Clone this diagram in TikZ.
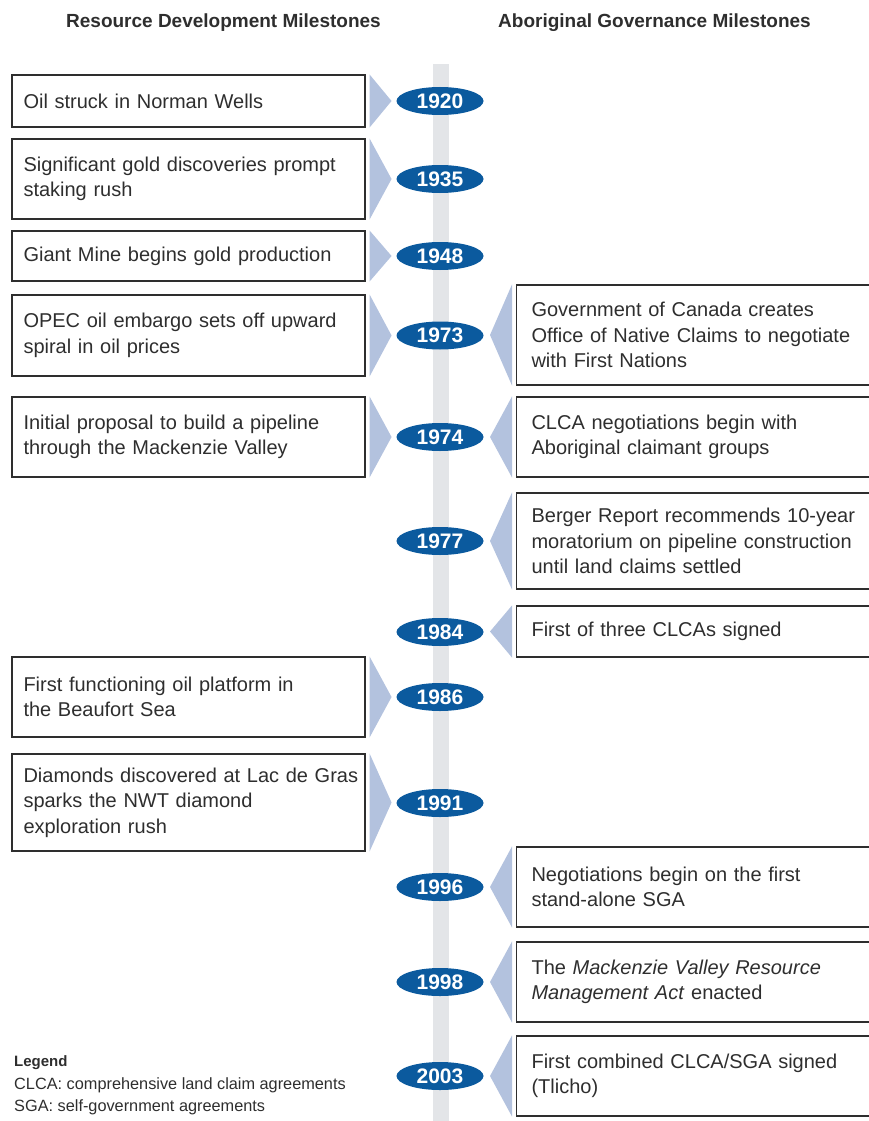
\documentclass[tikz,border=0pt]{standalone}
\usepackage{fontspec}
\setmainfont{Liberation Sans}
\usepackage{tikz}
\usetikzlibrary{shapes,shapes.geometric,backgrounds,positioning}

\definecolor{yearblue}{HTML}{0B5A9E}
\definecolor{tipblue}{HTML}{B3C2DE}
\definecolor{bargray}{HTML}{E3E5E8}
\definecolor{inkgray}{HTML}{2E2E2E}

\begin{document}
\begin{tikzpicture}[x=1pt, y=-1pt]
        \tikzstyle{every node} = [text=inkgray]
        \tikzstyle{lbox} = [draw=inkgray, line width=1.1pt, rectangle, align=left, minimum width=353, text width=330, inner xsep=11.5, font=\fontsize{20}{25.5}\selectfont]
        \tikzstyle{rbox} = [draw=inkgray, line width=1.1pt, rectangle, align=left, anchor=west, text width=360, inner xsep=15, font=\fontsize{20}{25.5}\selectfont]
        \tikzstyle{year} = [ellipse, fill=yearblue, text=white, minimum width=87, minimum height=28, inner sep=0, font=\fontsize{21}{21}\selectfont\bfseries]
        \tikzstyle{head} = [anchor=base, font=\fontsize{19}{22}\selectfont\bfseries]
        \tikzstyle{legend} = [anchor=base west, inner sep=0, font=\fontsize{16.3}{20}\selectfont]
        \useasboundingbox (0,0) rectangle (868,1121);

        % headings
        \node[head](hres) at (223.5,28){Resource Development Milestones};
        \node[head](hgov) at (654.5,28){Aboriginal Governance Milestones};

        % time line
        \fill[bargray] (433,64) rectangle (449,1121);

        % years
        \node[year](y1920) at (440,101){1920};
        \node[year](y1935) at (440,179){1935};
        \node[year](y1948) at (440,256){1948};
        \node[year](y1973) at (440,335.5){1973};
        \node[year](y1974) at (440,437){1974};
        \node[year](y1977) at (440,541){1977};
        \node[year](y1984) at (440,632){1984};
        \node[year](y1986) at (440,697){1986};
        \node[year](y1991) at (440,803){1991};
        \node[year](y1996) at (440,887){1996};
        \node[year](y1998) at (440,982){1998};
        \node[year](y2003) at (440,1076){2003};

        % resource development
        \node[lbox, minimum height=52](l1920) at (188.5,101){Oil struck in Norman Wells};
        \node[lbox, minimum height=80](l1935) at (188.5,179){Significant gold discoveries prompt\\staking rush};
        \node[lbox, minimum height=50](l1948) at (188.5,256){Giant Mine begins gold production};
        \node[lbox, minimum height=81](l1973) at (188.5,335.5){OPEC oil embargo sets off upward\\spiral in oil prices};
        \node[lbox, minimum height=80](l1974) at (188.5,437){Initial proposal to build a pipeline\\through the Mackenzie Valley};
        \node[lbox, minimum height=80](l1986) at (188.5,697){First functioning oil platform in\\the Beaufort Sea};
        \node[lbox, minimum height=97](l1991) at (188.5,802.5){\mbox{Diamonds discovered at Lac de Gras}\\sparks the NWT diamond\\exploration rush};

        % aboriginal governance
        \node[rbox, minimum height=100](r1973) at (516,335){Government of Canada creates\\Office of Native Claims to negotiate\\with First Nations};
        \node[rbox, minimum height=80](r1974) at (516,437){CLCA negotiations begin with\\Aboriginal claimant groups};
        \node[rbox, minimum height=96](r1977) at (516,541){Berger Report recommends 10-year\\moratorium on pipeline construction\\until land claims settled};
        \node[rbox, minimum height=51](r1984) at (516,631.5){First of three CLCAs signed};
        \node[rbox, minimum height=80](r1996) at (516,887){Negotiations begin on the first\\stand-alone SGA};
        \node[rbox, minimum height=80](r1998) at (516,982){The \textit{Mackenzie Valley Resource}\\\textit{Management Act} enacted};
        \node[rbox, minimum height=80](r2003) at (516,1076){First combined CLCA/SGA signed\\(Tlicho)};

        % pointers
        \foreach \b in {l1920,l1935,l1948,l1973,l1974,l1986,l1991}
            \fill[tipblue] ([xshift=4]\b.north east) -- ([xshift=26]\b.east) -- ([xshift=4]\b.south east) -- cycle;
        \foreach \b in {r1973,r1974,r1977,r1984,r1996,r1998,r2003}
            \fill[tipblue] ([xshift=-4]\b.north west) -- ([xshift=-26]\b.west) -- ([xshift=-4]\b.south west) -- cycle;

        % legend
        \node[legend, font=\fontsize{15}{20}\selectfont\bfseries](leg) at (14,1066){Legend};
        \node[legend](leg1) at (14,1089){CLCA: comprehensive land claim agreements};
        \node[legend](leg2) at (14,1111){SGA: self-government agreements};
    \end{tikzpicture}
\end{document}
